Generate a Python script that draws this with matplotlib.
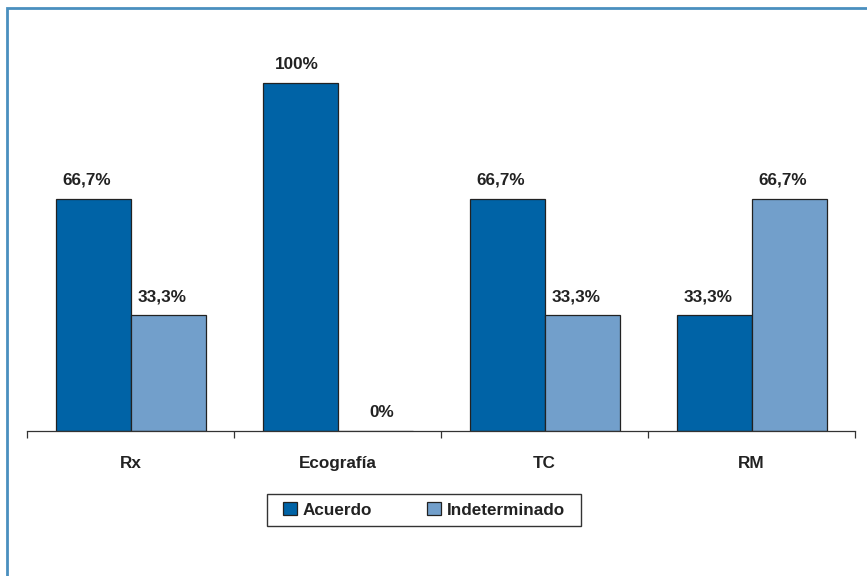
import numpy as np
import matplotlib.pyplot as plt
from matplotlib.patches import Rectangle

categories = ["Rx", "Ecografía", "TC", "RM"]
acuerdo = [66.7, 100, 66.7, 33.3]
indeterminado = [33.3, 0, 33.3, 66.7]
series_names = ["Acuerdo", "Indeterminado"]

W, H = 867, 576
fig = plt.figure(figsize=(W / 100, H / 100), dpi=100)
plt.rcParams['font.family'] = ['Liberation Sans', 'DejaVu Sans']
FS = 12.3
TXT = '#222222'

# outer frame (cropped at right/bottom)
fig.patches.append(Rectangle((6.5 / W, -0.05), 1.1, 1 - 8.5 / H + 0.05,
                             transform=fig.transFigure, fill=False,
                             edgecolor='#4a8fbf', linewidth=2))

# axes: x from 27 to 855 px, baseline at y=431 px, top at y=30 px
ax = fig.add_axes([27 / W, 1 - 431 / H, (855 - 27) / W, (431 - 30) / H])
x = np.arange(len(categories))
w = 75 / 207
b1 = ax.bar(x - w / 2, acuerdo, w, color='#0063a6', edgecolor='#222222', linewidth=0.9, label=series_names[0])
b2 = ax.bar(x + w / 2, indeterminado, w, color='#729fcb', edgecolor='#222222', linewidth=0.9, label=series_names[1])

for bars, vals in ((b1, acuerdo), (b2, indeterminado)):
    for r, v in zip(bars, vals):
        if v == 100:
            lab, dx = "100%", -2.5
        elif v == 0:
            lab, dx = "0%", 4.5
        else:
            lab, dx = f"{v:.1f}%".replace(".", ","), -4.5
        ax.annotate(lab, (r.get_x() + r.get_width() / 2, v), xytext=(dx, 8.0),
                    textcoords='offset points', ha='center', va='bottom',
                    fontsize=FS, fontweight='bold', color=TXT)

ax.set_xlim(-0.5, len(categories) - 0.5)
ax.set_ylim(0, 100 * 401 / 348)
for s in ('top', 'right', 'left'):
    ax.spines[s].set_visible(False)
ax.spines['bottom'].set_color('#333333')
ax.spines['bottom'].set_linewidth(0.9)
ax.set_yticks([])
ax.set_xticks(np.arange(len(categories) + 1) - 0.5)
ax.set_xticklabels([])
ax.tick_params(axis='x', length=5, width=0.9, color='#333333')
for i, c in enumerate(categories):
    ax.text(i, -9.3, c, ha='center', va='center', fontsize=FS,
            fontweight='bold', color=TXT)

# legend: frame drawn separately to get the wide side padding
leg = fig.legend(handles=[b1, b2], labels=series_names, loc='center',
                 bbox_to_anchor=(424 / W, 1 - 510 / H), ncol=2, frameon=False,
                 fontsize=FS, handlelength=0.8, handleheight=0.8,
                 columnspacing=3.2, handletextpad=0.35, borderpad=0.5)
for t in leg.get_texts():
    t.set_fontweight('bold')
    t.set_color(TXT)
fig.patches.append(Rectangle((267 / W, 1 - 526 / H), (581 - 267) / W, 32 / H,
                             transform=fig.transFigure, fill=False,
                             edgecolor='#333333', linewidth=1.0))

fig.savefig('out.png', dpi=100)
